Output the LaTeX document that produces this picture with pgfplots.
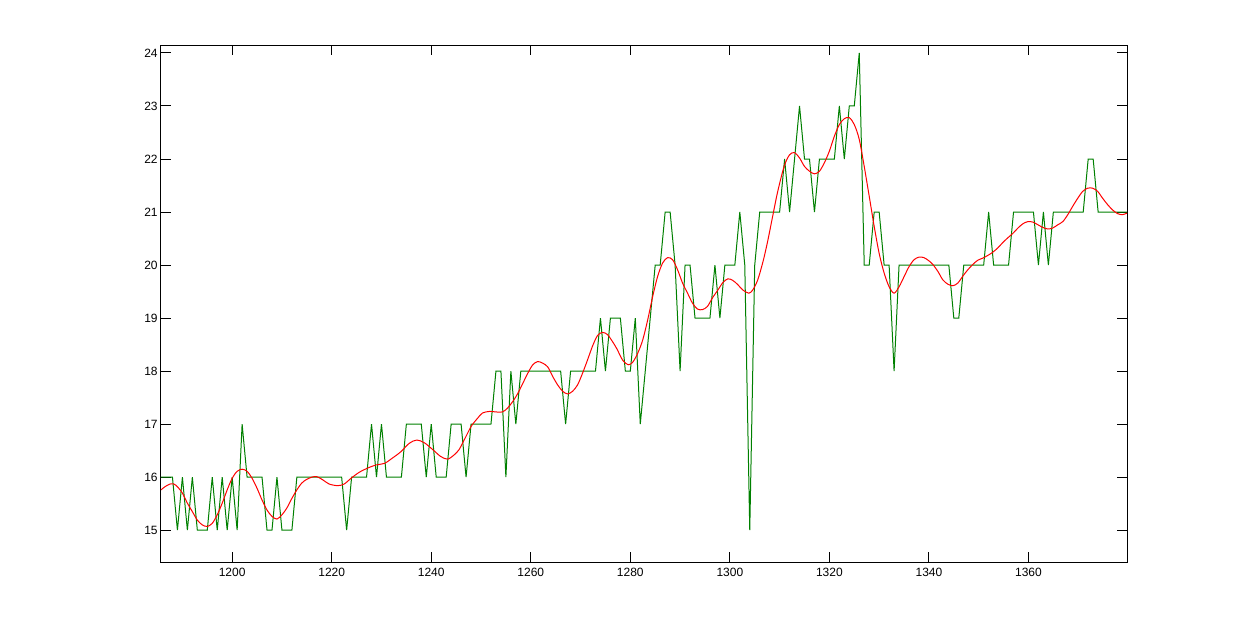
\documentclass[border=0pt]{standalone}
\usepackage{fontspec}
\setmainfont{Liberation Sans}
\usepackage{pgfplots}
\pgfplotsset{compat=1.18}
\definecolor{mgreen}{rgb}{0,0.5,0}
\definecolor{mred}{rgb}{1,0,0}
\begin{document}
\begin{tikzpicture}
\path[use as bounding box] (-80.5pt,-35.5pt) rectangle (542.5pt,281pt);
\begin{axis}[
  at={(0,0)}, anchor=south west,
  scale only axis, width=483pt, height=258.5pt,
  xmin=1185.7, xmax=1379.8, ymin=14.4, ymax=24.15,
  xtick={1200,1220,...,1360}, ytick={15,16,...,24},
  tick align=inside, major tick length=4.8pt,
  tick style={black, line width=0.5pt},
  axis line style={black, line width=0.5pt},
  /pgf/number format/assume math mode=true,
  /pgf/number format/1000 sep={},
  tick label style={font=\fontsize{6}{7}\selectfont, inner sep=0pt},
  yticklabel style={xshift=-1.5pt},
  xticklabel style={yshift=-3pt},
  clip=true,
]
\addplot[mgreen, line width=0.5pt, no markers, sharp plot] coordinates {
(1185,16)(1186,16)(1187,16)(1188,16)(1189,15)(1190,16)(1191,15)(1192,16)(1193,15)(1194,15)
(1195,15)(1196,16)(1197,15)(1198,16)(1199,15)(1200,16)(1201,15)(1202,17)(1203,16)(1204,16)
(1205,16)(1206,16)(1207,15)(1208,15)(1209,16)(1210,15)(1211,15)(1212,15)(1213,16)(1214,16)
(1215,16)(1216,16)(1217,16)(1218,16)(1219,16)(1220,16)(1221,16)(1222,16)(1223,15)(1224,16)
(1225,16)(1226,16)(1227,16)(1228,17)(1229,16)(1230,17)(1231,16)(1232,16)(1233,16)(1234,16)
(1235,17)(1236,17)(1237,17)(1238,17)(1239,16)(1240,17)(1241,16)(1242,16)(1243,16)(1244,17)
(1245,17)(1246,17)(1247,16)(1248,17)(1249,17)(1250,17)(1251,17)(1252,17)(1253,18)(1254,18)
(1255,16)(1256,18)(1257,17)(1258,18)(1259,18)(1260,18)(1261,18)(1262,18)(1263,18)(1264,18)
(1265,18)(1266,18)(1267,17)(1268,18)(1269,18)(1270,18)(1271,18)(1272,18)(1273,18)(1274,19)
(1275,18)(1276,19)(1277,19)(1278,19)(1279,18)(1280,18)(1281,19)(1282,17)(1283,18)(1284,19)
(1285,20)(1286,20)(1287,21)(1288,21)(1289,20)(1290,18)(1291,20)(1292,20)(1293,19)(1294,19)
(1295,19)(1296,19)(1297,20)(1298,19)(1299,20)(1300,20)(1301,20)(1302,21)(1303,20)(1304,15)
(1305,20)(1306,21)(1307,21)(1308,21)(1309,21)(1310,21)(1311,22)(1312,21)(1313,22)(1314,23)
(1315,22)(1316,22)(1317,21)(1318,22)(1319,22)(1320,22)(1321,22)(1322,23)(1323,22)(1324,23)
(1325,23)(1326,24)(1327,20)(1328,20)(1329,21)(1330,21)(1331,20)(1332,20)(1333,18)(1334,20)
(1335,20)(1336,20)(1337,20)(1338,20)(1339,20)(1340,20)(1341,20)(1342,20)(1343,20)(1344,20)
(1345,19)(1346,19)(1347,20)(1348,20)(1349,20)(1350,20)(1351,20)(1352,21)(1353,20)(1354,20)
(1355,20)(1356,20)(1357,21)(1358,21)(1359,21)(1360,21)(1361,21)(1362,20)(1363,21)(1364,20)
(1365,21)(1366,21)(1367,21)(1368,21)(1369,21)(1370,21)(1371,21)(1372,22)(1373,22)(1374,21)
(1375,21)(1376,21)(1377,21)(1378,21)(1379,21)(1380,21)
};
\addplot[mred, line width=0.5pt, no markers, smooth] coordinates {
(1185.7,15.76)(1186.5,15.82)(1187.5,15.87)(1188.3,15.87)(1189,15.82)(1190,15.70)(1191,15.51)
(1192,15.35)(1193,15.19)(1194,15.10)(1195,15.07)(1196,15.13)(1197,15.29)(1198,15.51)(1199,15.76)
(1200,15.98)(1201,16.11)(1202,16.15)(1203,16.11)(1204,15.98)(1205,15.79)(1206,15.57)(1207,15.38)
(1208,15.26)(1209,15.21)(1210,15.29)(1211,15.42)(1212,15.60)(1213,15.76)(1214,15.89)(1215,15.96)
(1216,16.00)(1217,16.01)(1218.2,15.95)(1219.5,15.87)(1221.2,15.84)(1222.5,15.87)(1223.9,15.98)
(1225.5,16.09)(1227.2,16.17)(1228.9,16.23)(1230.6,16.26)(1232.2,16.36)(1233.9,16.48)(1235.6,16.64)
(1237.1,16.70)(1238.6,16.65)(1240.3,16.52)(1241.9,16.39)(1243.3,16.34)(1244.6,16.42)(1245.6,16.52)
(1246.4,16.66)(1247.2,16.81)(1248.1,16.97)(1249.3,17.11)(1250.3,17.21)(1251.7,17.24)(1253,17.23)
(1254.3,17.23)(1255.3,17.30)(1256.4,17.43)(1257.4,17.58)(1258.4,17.77)(1259.4,17.96)(1260.4,18.12)
(1261.4,18.18)(1262.4,18.15)(1263.4,18.08)(1264.4,17.90)(1265.4,17.74)(1266.4,17.62)(1267.4,17.57)
(1268.4,17.62)(1269.4,17.74)(1270.4,17.96)(1271.4,18.21)(1272.4,18.47)(1273.4,18.67)(1274.4,18.73)
(1275.4,18.69)(1276.4,18.56)(1277.3,18.42)(1278.5,18.20)(1279.6,18.12)(1280.5,18.17)(1281.5,18.34)
(1282.5,18.59)(1283.5,18.97)(1284.5,19.41)(1285.5,19.79)(1286.5,20.04)(1287.5,20.14)(1288.5,20.10)
(1289.5,19.91)(1290.5,19.66)(1291.5,19.47)(1292.5,19.28)(1293.5,19.17)(1294.5,19.16)(1295.5,19.22)
(1296.5,19.38)(1297.6,19.53)(1298.6,19.67)(1299.6,19.74)(1300.6,19.71)(1301.6,19.63)(1302.6,19.53)
(1303.8,19.47)(1304.6,19.53)(1305.6,19.72)(1306.7,20.08)(1307.6,20.45)(1308.6,20.92)(1309.6,21.38)
(1310.9,21.86)(1312,22.08)(1313,22.12)(1314,22.02)(1315,21.86)(1316,21.77)(1317,21.72)(1318,21.77)
(1319,21.93)(1320,22.15)(1321,22.43)(1322,22.65)(1323,22.76)(1324,22.78)(1325,22.65)(1326,22.37)
(1327,21.86)(1328,21.30)(1329,20.73)(1330,20.22)(1331,19.85)(1332,19.59)(1333,19.47)(1334,19.59)
(1335,19.78)(1336,19.97)(1337,20.10)(1338,20.15)(1339,20.14)(1340,20.08)(1340.8,20.01)(1341.8,19.88)
(1342.8,19.72)(1343.8,19.64)(1344.8,19.61)(1345.8,19.66)(1346.8,19.79)(1347.8,19.91)(1348.8,20.01)
(1349.8,20.09)(1350.8,20.13)(1351.8,20.18)(1352.8,20.24)(1353.8,20.32)(1354.8,20.42)(1355.8,20.51)
(1356.9,20.60)(1357.9,20.70)(1358.9,20.78)(1359.9,20.82)(1360.9,20.81)(1361.9,20.76)(1362.9,20.71)
(1363.9,20.68)(1364.9,20.70)(1365.9,20.76)(1366.9,20.82)(1367.9,20.95)(1368.9,21.11)(1369.9,21.26)
(1370.9,21.39)(1371.9,21.45)(1372.9,21.45)(1373.9,21.39)(1374.9,21.26)(1375.9,21.14)(1376.9,21.04)
(1377.9,20.97)(1378.9,20.95)(1379.8,20.98)
};
\end{axis}
\end{tikzpicture}
\end{document}
